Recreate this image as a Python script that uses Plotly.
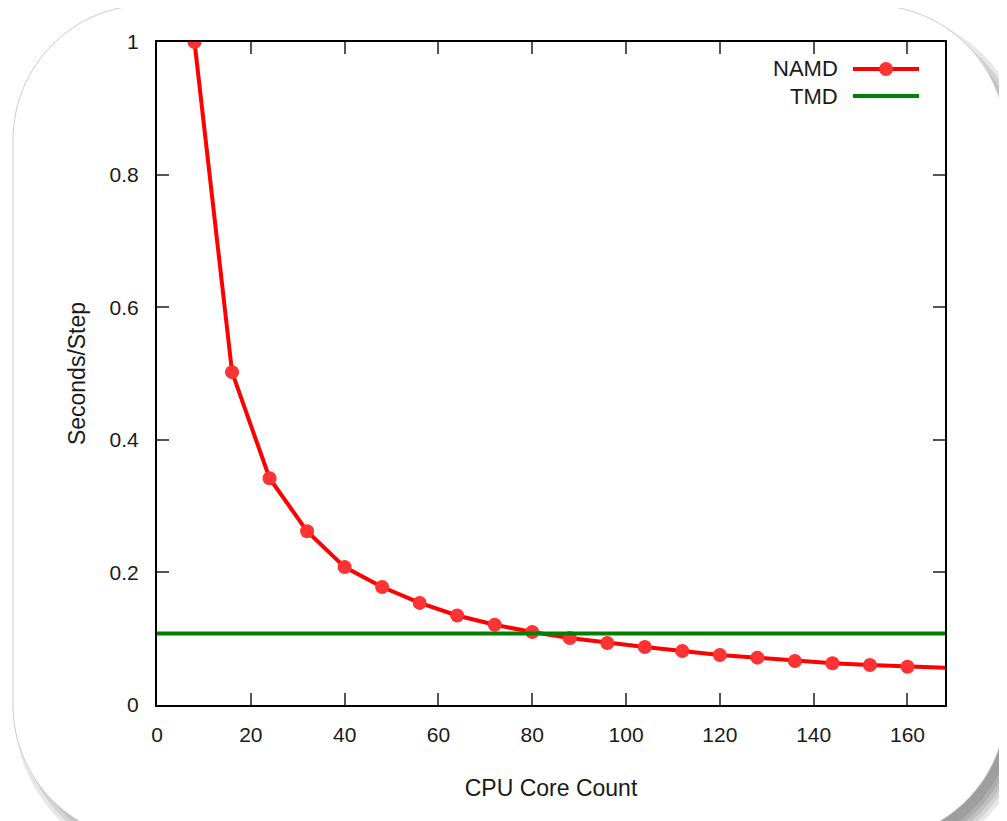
import plotly.graph_objects as go

# ---- data ----
cores = [8, 16, 24, 32, 40, 48, 56, 64, 72, 80, 88, 96, 104, 112, 120, 128, 136, 144, 152, 160, 176]
namd_sec_per_step = [1.0, 0.502, 0.342, 0.262, 0.208, 0.178, 0.154, 0.135, 0.121, 0.110, 0.101,
                     0.0935, 0.0875, 0.0814, 0.0754, 0.0714, 0.0664, 0.0629, 0.0603, 0.0578, 0.054]
tmd_sec_per_step = 0.108
x_ticks = [0, 20, 40, 60, 80, 100, 120, 140, 160]
y_ticks = [0, 0.2, 0.4, 0.6, 0.8, 1]
y_tick_text = ["0", "0.2", "0.4", "0.6", "0.8", "1"]
legend_names = ["NAMD", "TMD"]

# ---- geometry (pixels; page has an 8px body margin) ----
OFF = 8
FW, FH = 1007 - OFF, 821 - OFF
PL, PR, PT, PB = 157 - OFF, 945 - OFF, 42 - OFF, 705 - OFF
PW, PH = PR - PL, PB - PT


def px(x):
    return (x - OFF - PL) / PW


def py(y):
    return (PB - (y - OFF)) / PH


def rrect(x0, y0, x1, y1, r):
    k = 0.5523 * r
    pts = []
    pts.append(("M", [(x0 + r, y0)]))
    pts.append(("L", [(x1 - r, y0)]))
    pts.append(("C", [(x1 - r + k, y0), (x1, y0 + r - k), (x1, y0 + r)]))
    pts.append(("L", [(x1, y1 - r)]))
    pts.append(("C", [(x1, y1 - r + k), (x1 - r + k, y1), (x1 - r, y1)]))
    pts.append(("L", [(x0 + r, y1)]))
    pts.append(("C", [(x0 + r - k, y1), (x0, y1 - r + k), (x0, y1 - r)]))
    pts.append(("L", [(x0, y0 + r)]))
    pts.append(("C", [(x0, y0 + r - k), (x0 + r - k, y0), (x0 + r, y0)]))
    s = ""
    for cmd, ps in pts:
        s += cmd + " " + " ".join(f"{px(a):.5f},{py(b):.5f}" for a, b in ps) + " "
    return s + "Z"


shapes = []
# shadow layers (screen pixel coords)
for g in [0, 4, 8, 12, 16]:
    shapes.append(dict(type="path", xref="paper", yref="paper", layer="below",
                       path=rrect(30 - g, 26 - g, 1014 + g, 850 + g, 140 + g),
                       fillcolor="rgba(0,0,0,0.09)", line=dict(width=0)))
# card
shapes.append(dict(type="path", xref="paper", yref="paper", layer="below",
                   path=rrect(13, 5, 1006, 840, 135),
                   fillcolor="white", line=dict(color="rgb(205,205,205)", width=1)))

# manual gnuplot-style legend samples (text left of sample)
LEG_X0, LEG_X1, LEG_Y = 853, 919, [69, 96]
shapes.append(dict(type="line", xref="paper", yref="paper", x0=px(LEG_X0), x1=px(LEG_X1),
                   y0=py(LEG_Y[0]), y1=py(LEG_Y[0]), line=dict(color="#ff0000", width=4)))
shapes.append(dict(type="circle", xref="paper", yref="paper",
                   x0=px(886 - 7), x1=px(886 + 7), y0=py(LEG_Y[0] + 7), y1=py(LEG_Y[0] - 7),
                   fillcolor="#ff3333", line=dict(width=0)))
shapes.append(dict(type="line", xref="paper", yref="paper", x0=px(LEG_X0), x1=px(LEG_X1),
                   y0=py(LEG_Y[1]), y1=py(LEG_Y[1]), line=dict(color="#008000", width=4)))

FONT = "Liberation Sans, Arial, sans-serif"
TXT = "#1a1a1a"
annotations = []
for name, yy in zip(legend_names, LEG_Y):
    annotations.append(dict(text=name, xref="paper", yref="paper", x=px(840), y=py(yy),
                            xanchor="right", yanchor="middle", showarrow=False,
                            font=dict(family=FONT, size=22, color=TXT)))

fig = go.Figure()
fig.add_trace(go.Scatter(x=cores, y=namd_sec_per_step, mode="lines+markers", name="NAMD",
                         line=dict(color="#ff0000", width=4),
                         marker=dict(color="#ff3333", size=14, line=dict(width=0)),
                         cliponaxis=True, showlegend=False))
fig.add_trace(go.Scatter(x=[0, cores[-1]], y=[tmd_sec_per_step, tmd_sec_per_step], mode="lines",
                         name="TMD", line=dict(color="#008000", width=4), showlegend=False))

axis_common = dict(showline=True, linecolor="black", linewidth=2, mirror="ticks",
                   ticks="inside", ticklen=12, tickwidth=1.5, tickcolor="#555",
                   showgrid=False, zeroline=False,
                   tickfont=dict(family=FONT, size=21, color=TXT))

fig.update_layout(
    width=FW, height=FH,
    margin=dict(l=PL, r=FW - PR, t=PT, b=FH - PB, autoexpand=False),
    paper_bgcolor="white", plot_bgcolor="rgba(0,0,0,0)",
    shapes=shapes, annotations=annotations, showlegend=False,
    xaxis=dict(range=[0, 168], tickvals=x_ticks, ticklabelstandoff=10,
               title=dict(text="CPU Core Count", standoff=35,
                          font=dict(family=FONT, size=23, color=TXT)),
               **axis_common),
    yaxis=dict(range=[0, 1], tickvals=y_ticks, ticktext=y_tick_text, ticklabelstandoff=12,
               title=dict(text="Seconds/Step", standoff=18,
                          font=dict(family=FONT, size=23, color=TXT)),
               **axis_common),
)

fig.write_html("out.html")
